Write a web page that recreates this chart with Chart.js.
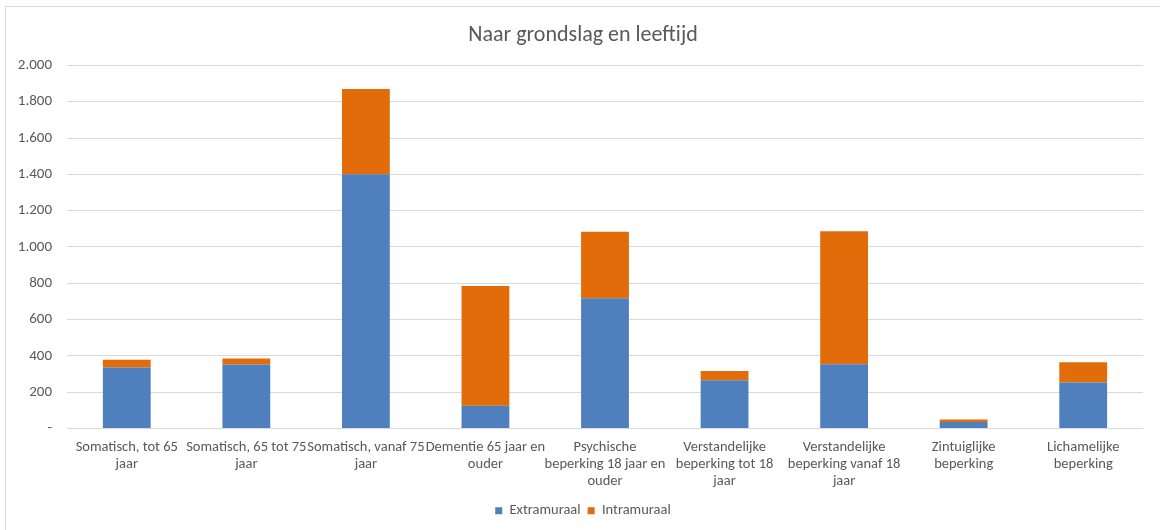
<!DOCTYPE html>
<html lang="nl">
<head>
<meta charset="utf-8">
<title>Naar grondslag en leeftijd</title>
<script src="https://cdn.jsdelivr.net/npm/chart.js@4.4.1/dist/chart.umd.min.js"></script>
<style>
    html, body { margin: 0; padding: 0; background: #fff; overflow: hidden; }
    #wrap { position: relative; width: 1160px; height: 530px; }
    #frame {
        position: absolute; left: 5px; top: 6px; width: 1200px; height: 600px;
        border: 1px solid #d9d9d9; box-sizing: border-box;
    }
    #chart { position: absolute; left: 0; top: 0; }
</style>
</head>
<body>
<div id="wrap">
    <div id="frame"></div>
    <canvas id="chart" width="1160" height="530"></canvas>
</div>
<script>
// categorieën (al over regels verdeeld zoals op de as)
const categories = [
    ['Somatisch, tot 65', 'jaar'],
    ['Somatisch, 65 tot 75', 'jaar'],
    ['Somatisch, vanaf 75', 'jaar'],
    ['Dementie 65 jaar en', 'ouder'],
    ['Psychische', 'beperking 18 jaar en', 'ouder'],
    ['Verstandelijke', 'beperking tot 18', 'jaar'],
    ['Verstandelijke', 'beperking vanaf 18', 'jaar'],
    ['Zintuiglijke', 'beperking'],
    ['Lichamelijke', 'beperking']
];

const extramuraal = [336, 352, 1400, 125, 718, 266, 354, 36, 253];
const intramuraal = [42, 33, 470, 660, 366, 51, 733, 14, 112];

const yTicks = [0, 200, 400, 600, 800, 1000, 1200, 1400, 1600, 1800, 2000];

const textColor = '#595959';
const fontFamily = 'Calibri, Carlito, "Liberation Sans Narrow", "Liberation Sans", sans-serif';

function formatNumber(v) {
    if (v === 0) return '-';
    return String(v).replace(/\B(?=(\d{3})+(?!\d))/g, '.');
}

const ctx = document.getElementById('chart').getContext('2d');
new Chart(ctx, {
    type: 'bar',
    data: {
        labels: categories,
        datasets: [
            {
                label: 'Extramuraal',
                data: extramuraal,
                backgroundColor: '#4f80bd'
            },
            {
                label: 'Intramuraal',
                data: intramuraal,
                backgroundColor: '#e36c0a'
            }
        ]
    },
    options: {
        responsive: false,
        animation: false,
        barPercentage: 0.4,
        categoryPercentage: 1,
        layout: {
            padding: { left: 6, right: 0, top: 0, bottom: 2 }
        },
        scales: {
            x: {
                stacked: true,
                grid: { display: false, drawTicks: false },
                border: { display: false },
                ticks: {
                    autoSkip: false,
                    maxRotation: 0,
                    minRotation: 0,
                    padding: 10,
                    color: textColor,
                    font: { family: fontFamily, size: 14.5, lineHeight: 1.17 }
                },
                afterFit: (scale) => { scale.height = 68; }
            },
            y: {
                stacked: true,
                min: 0,
                max: 2000,
                afterBuildTicks: (scale) => {
                    scale.ticks = yTicks.map(v => ({ value: v }));
                },
                grid: { color: '#d9d9d9', drawTicks: false },
                border: { display: false },
                ticks: {
                    padding: 15,
                    color: textColor,
                    font: { family: fontFamily, size: 15 },
                    callback: (v) => formatNumber(v)
                },
                afterFit: (scale) => { scale.width = 61; }
            },
            // lege as rechts: alleen ruimte tussen plot en rand
            yRight: {
                type: 'linear',
                position: 'right',
                min: 0,
                max: 1,
                grid: { display: false, drawTicks: false },
                border: { display: false },
                ticks: { display: false },
                afterFit: (scale) => { scale.width = 17; }
            }
        },
        plugins: {
            title: {
                display: true,
                text: 'Naar grondslag en leeftijd',
                color: textColor,
                font: { family: fontFamily, size: 22, weight: 'normal' },
                padding: { top: 22, bottom: 17 }
            },
            legend: {
                position: 'bottom',
                labels: {
                    color: textColor,
                    boxWidth: 7,
                    boxHeight: 7,
                    padding: 7,
                    font: { family: fontFamily, size: 14.5 }
                }
            },
            tooltip: { enabled: false }
        }
    }
});
</script>
</body>
</html>
